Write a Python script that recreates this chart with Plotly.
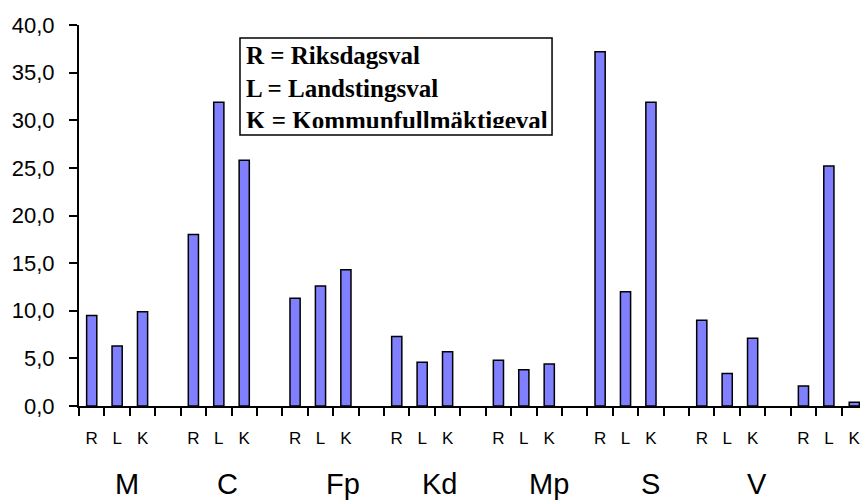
import plotly.graph_objects as go

# ---- data ----
groups = ["M", "C", "Fp", "Kd", "Mp", "S", "V", ""]
election_types = ["R", "L", "K"]
riksdag = [9.5, 18.0, 11.3, 7.3, 4.8, 37.2, 9.0, 2.1]
landsting = [6.3, 31.9, 12.6, 4.6, 3.8, 12.0, 3.4, 25.2]
kommun = [9.9, 25.8, 14.3, 5.7, 4.4, 31.9, 7.1, 0.4]
y_ticks = [0, 5, 10, 15, 20, 25, 30, 35, 40]
legend_lines = ["R = Riksdagsval", "L = Landstingsval", "K = Kommunfullmäktigeval"]

# ---- style ----
group_label_shift = [0.38, 0.34, 0.9, 0.7, 0.98, 0.98, 1.16, 0.0]
bar_color = "#8080FF"
step = 4  # 3 bars + 1 blank slot per group

series = [riksdag, landsting, kommun]
fig = go.Figure()
for i, vals in enumerate(series):
    xs = [g * step + i for g in range(len(groups))]
    fig.add_trace(go.Bar(
        x=xs, y=vals, width=0.4,
        marker=dict(color=bar_color, line=dict(color="black", width=1.5)),
        showlegend=False, hoverinfo="y"))

n_slots = len(groups) * step - 1
centers, texts = [], []
for g in range(len(groups)):
    for i, t in enumerate(election_types):
        centers.append(g * step + i)
        texts.append(t)
boundaries = [k - 0.5 for k in range(n_slots + 1)]

# the page body has an 8px default margin, so the figure is sized to fit
fig.update_layout(
    width=860, height=492,
    margin=dict(l=71, r=1, t=17, b=94),
    plot_bgcolor="white", paper_bgcolor="white",
    barmode="overlay",
    separators=",.",
    font=dict(family="Liberation Sans, Arial", color="black"),
    xaxis=dict(
        range=[-0.5, n_slots - 0.5],
        tickmode="array", tickvals=centers, ticktext=texts,
        ticks="", showgrid=False, zeroline=False,
        showline=True, linecolor="black", linewidth=2,
        tickfont=dict(size=17), ticklabelstandoff=16,
        minor=dict(tickmode="array", tickvals=boundaries, ticks="outside",
                   ticklen=8, tickwidth=2, tickcolor="black", showgrid=False),
    ),
    yaxis=dict(
        range=[0, 40], tickmode="array", tickvals=y_ticks,
        tickformat=".1f", ticks="outside", ticklen=8, tickwidth=2,
        tickcolor="black", showline=True, linecolor="black", linewidth=2,
        showgrid=False, zeroline=False, tickfont=dict(size=22),
        ticklabelstandoff=10,
    ),
)

for g, name in enumerate(groups):
    if not name:
        continue
    fig.add_annotation(
        x=g * step + 1 + group_label_shift[g], y=-0.205,
        xref="x", yref="paper", text=name, showarrow=False,
        font=dict(size=29, family="Liberation Sans, Arial", color="black"),
        xanchor="center", yanchor="middle")

# legend box (frame + clipped text)
fig.add_shape(type="rect", xref="paper", yref="paper",
              x0=0.2043, x1=0.6003, y0=0.7113, y1=0.9659,
              line=dict(color="black", width=1.5), fillcolor="white",
              layer="above")
legend_text = "<br>".join("<b>" + s + "</b>" for s in legend_lines)
fig.add_annotation(
    x=0.2119, y=0.9541, xref="paper", yref="paper",
    text=legend_text, showarrow=False, align="left", valign="top",
    xanchor="left", yanchor="top", width=304, height=86,
    font=dict(size=25, family="Liberation Serif, Times New Roman", color="black"),
    borderpad=0, borderwidth=0)

fig.write_html("out.html")
